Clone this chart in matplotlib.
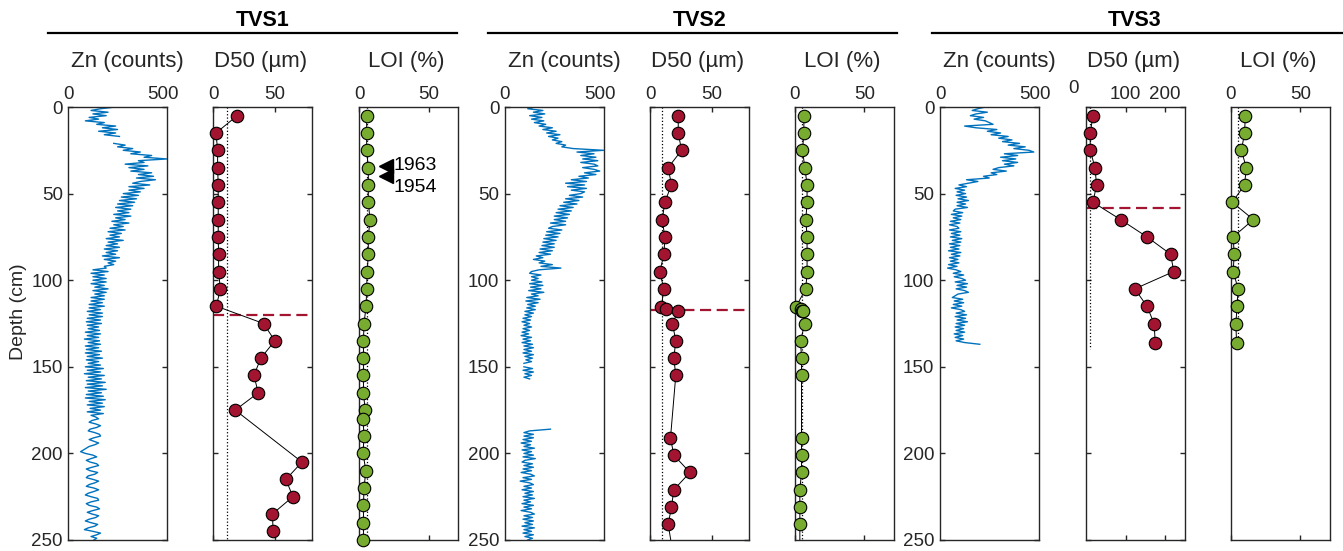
import numpy as np
import matplotlib.pyplot as plt
from matplotlib.lines import Line2D

plt.rcParams['font.family'] = ['Liberation Sans', 'DejaVu Sans']

nan = np.nan

# Zn XRF counts, one value per cm from the top of each core
zn_tvs1 = [
    250, 170, 120, 210, 130, 200, 110, 160, 90, 190,
    150, 250, 180, 260, 160, 250, 190, 270, nan, nan,
    nan, 240, 300, 260, 340, 290, 380, 330, 440, 400,
    520, 370, 400, 300, 420, 320, 400, 330, 440, 370,
    450, 360, 460, 380, 340, 430, 320, 400, 320, 380,
    290, 370, 280, 360, 270, 350, 260, 340, 250, 330,
    260, 320, 240, 330, 250, 300, 230, 320, 240, 290,
    220, 300, 210, 280, 220, 270, 200, 290, 210, 260,
    200, 270, 190, 260, 200, 250, 180, 270, 190, 250,
    210, 240, 190, 200, 130, 210, 120, 190, 130, 200,
    130, 200, 120, 190, 140, 210, 130, 200, 140, 190,
    120, 190, 120, 180, 110, 190, 110, 170, 100, 180,
    110, 180, 100, 170, 95, 175, 100, 160, 105, 165,
    90, 170, 100, 160, 85, 165, 105, 170, 90, 160,
    95, 175, 90, 165, 100, 180, 95, 160, 105, 170,
    90, 185, 100, 170, 85, 190, 105, 175, 95, 195,
    100, 180, 90, 200, 105, 175, 95, 185, 90, 195,
    110, 180, 100, 190, 115, 170, 100, 185, 120, 145,
    160, 125, 110, 145, 170, 150, 115, 105, 140, 165,
    170, 135, 110, 135, 160, 140, 110, 95, 80, 65,
    90, 130, 150, 120, 95, 115, 150, 160, 125, 95,
    115, 155, 140, 105, 95, 130, 160, 140, 110, 95,
    135, 160, 135, 105, 90, 120, 155, 160, 120, 95,
    110, 150, 165, 130, 100, 125, 160, 145, 110, 90,
    120, 155, 140, 105, 85, 130, 170, 150, 120, 150,
    135,
]

zn_tvs2 = [
    155, 120, 200, 150, 210, 130, 195, 140, 205, 155,
    215, 180, 250, 200, 270, 220, 290, 230, 280, 250,
    300, 270, 320, 300, 360, 520, 380, 470, 400, 480,
    410, 490, 400, 470, 490, 410, 470, 500, 420, 480,
    390, 440, 350, 430, 320, 420, 330, 430, 350, 420,
    400, 340, 410, 320, 390, 310, 380, 290, 360, 280,
    350, 270, 340, 260, 330, 260, 320, 240, 320, 250,
    230, 300, 220, 290, 215, 280, 205, 270, 200, 260,
    195, 260, 185, 250, 180, 240, 165, 200, 150, 210,
    180, 250, 190, 295, 180, 140, 130, 190, 140, 175,
    140, 195, 130, 200, 135, 190, 125, 205, 140, 175,
    115, 185, 110, 175, 120, 160, 115, 160, 105, 150,
    105, 140, 95, 135, 90, 130, 100, 140, 95, 130,
    90, 125, 85, 140, 95, 135, 90, 145, 100, 150,
    100, 140, 95, 150, 105, 145, 110, 140, 100, nan,
    100, 145, 95, 150, 105, 140, 100, 130, nan, nan,
    nan, nan, nan, nan, nan, nan, nan, nan, nan, nan,
    nan, nan, nan, nan, nan, nan, nan, nan, nan, nan,
    nan, nan, nan, nan, nan, nan, 240, 130, 100, 150,
    100, 150, 95, 140, 85, 135, 100, 155, 90, 140,
    100, 150, 95, 160, 105, 90, 145, 100, 150, 95,
    140, 85, 135, 155, 95, 140, 80, 130, 150, 100,
    140, 90, 150, 105, 145, 95, 155, 100, 135, 90,
    150, 100, 140, 85, 135, 155, 100, 145, 95, 150,
    105, 145, 90, 155, 100, 140, 95, 150, 105, 145,
    120,
]

zn_tvs3 = [
    240, 200, 170, 250, 190, 160, 230, 180, 240, 260,
    280, 130, 190, 300, 250, 320, 270, 360, 310, 380,
    330, 420, 360, 450, 390, 470, 495, 340, 410, 320,
    400, 330, 410, 340, 390, 310, 280, 350, 270, 300,
    230, 260, 140, 200, 150, 100, 140, 80, 130, 90,
    135, 85, 140, 95, 150, 90, 135, 90, 145, 80,
    70, 120, 60, 115, 70, 110, 55, 105, 50, 90,
    100, 50, 110, 60, 105, 55, 115, 65, 110, 50,
    105, 55, 100, 45, 110, 60, 105, 50, 95, 55,
    100, 45, 90, 40, 85, 110, 70, 125, 75, 115,
    135, 80, 145, 90, 140, 85, 130, 150, 95, 80,
    65, 120, 75, 125, 70, 115, 60, 110, 130, 85,
    140, 80, 135, 90, 145, 85, 130, 80, 125, 85,
    130, 75, 120, 80, 125, 85, 130, 210,
]

# grain size (D50, um)
d50_depth_tvs1 = [5, 15, 25, 35, 45, 55, 65, 75, 85, 95, 105, 115, 125, 135,
                  145, 155, 165, 175, 205, 215, 225, 235, 245]
d50_tvs1 = [19.4, 2.2, 3.5, 3.5, 4, 4, 4, 4, 4.3, 4.3, 5.7, 2.5, 40.8, 50,
            38.6, 33, 36.5, 17.8, 72, 59, 64.6, 48, 48.6]

d50_depth_tvs2 = [5, 15, 25, 35, 45, 55, 65, 75, 85, 95, 105, 115.3, 116.8, 117.6,
                  125, 135, 145, 155, 191, 201, 211, 221, 231, 241, 258]
d50_tvs2 = [22.7, 22.7, 25.4, 14.5, 17.2, 11.7, 9.8, 11.7, 11.2, 7.6, 11, 9, 12.5, 22.7,
            18, 20.7, 19.1, 20.7, 16.4, 19.1, 32.2, 19.1, 17.2, 14.5, 18.5]

d50_depth_tvs3 = [5, 15, 25, 35, 45, 55, 65, 75, 85, 95, 105, 115, 125, 136]
d50_tvs3 = [17, 10, 10, 22, 26, 17, 87, 154, 214, 222, 123, 154, 172, 175]

# loss on ignition (%)
loi_depth_tvs1 = [5, 15, 25, 35, 45, 55, 65, 75, 85, 95, 105, 115, 125, 135, 145,
                  155, 165, 175, 180, 190, 200, 210, 220, 230, 240, 250]
loi_tvs1 = [5.3, 5.3, 5.3, 6.5, 6.5, 6.5, 7.7, 6.5, 6.5, 5.7, 5.3, 4.9, 3.4, 3, 3,
            3, 3, 4.2, 2.7, 3.4, 2.7, 4.7, 3.4, 3, 3, 3]

loi_depth_tvs2 = [5, 15, 25, 35, 45, 55, 65, 75, 85, 95, 105, 115.3, 116.5, 117.5, 118,
                  125, 135, 145, 155, 191, 201, 211, 221, 231, 241, 258]
loi_tvs2 = [6.4, 6.4, 5.4, 7.1, 8.7, 8.7, 7.8, 8.7, 8.7, 8.7, 7.8, 0.7, 4, 5.4, 5.9,
            7.1, 4, 4.7, 4.7, 4.7, 4.7, 4.7, 3.5, 3.5, 3.5, 3.5]

loi_depth_tvs3 = [5, 15, 25, 35, 45, 55, 65, 75, 85, 95, 105, 115, 125, 136]
loi_tvs3 = [10.3, 9.8, 7.5, 11, 9.8, 0.9, 16.1, 1.6, 2.3, 1.6, 5.1, 4.4, 3.5, 4]

cores = ['TVS1', 'TVS2', 'TVS3']
d50_ref = [10.8, 9.5, 8.4]
loi_ref = [5.5, 5.2, 5.1]
ref_bottom = [250, 250, 140]
boundary = [120, 117, 58.5]
dates = ['1963', '1954']
date_depth = [34.2, 39.8]

zn_all = [zn_tvs1, zn_tvs2, zn_tvs3]
d50_all = [(d50_depth_tvs1, d50_tvs1), (d50_depth_tvs2, d50_tvs2), (d50_depth_tvs3, d50_tvs3)]
loi_all = [(loi_depth_tvs1, loi_tvs1), (loi_depth_tvs2, loi_tvs2), (loi_depth_tvs3, loi_tvs3)]

W, H = 1343, 551
AX_TOP, AX_BOT = 107, 540
AX_W = 98.5
GREY = '#262626'
BLUE = '#0072BD'
RED = '#A2142F'
GREEN = '#77AC30'
TICK_FS = 13.5

left_px = [(68.3, 213.3, 359.3), (505, 650.3, 795), (940, 1086.3, 1231)]
line_px = [(48, 457), (488, 897), (932, 1343)]

fig = plt.figure(figsize=(W / 100, H / 100), dpi=100)


def make_ax(x0):
    ax = fig.add_axes([x0 / W, (H - AX_BOT) / H, AX_W / W, (AX_BOT - AX_TOP) / H])
    ax.set_ylim(250, 0)
    ax.xaxis.tick_top()
    ax.tick_params(direction='in', top=True, bottom=True, left=True, right=True,
                   labeltop=True, labelbottom=False, labelleft=False,
                   length=3.5, width=1, colors=GREY, labelsize=TICK_FS, pad=3)
    ax.tick_params(axis='y', pad=4)
    ax.set_yticks([0, 50, 100, 150, 200, 250])
    for s in ax.spines.values():
        s.set_color(GREY)
        s.set_linewidth(1)
    return ax


def points(ax, depth, vals, color):
    depth = np.asarray(depth)
    vals = np.asarray(vals)
    ax.plot(vals, depth, color='k', lw=0.7, zorder=3)
    keep = depth <= 250
    ax.plot(vals[keep], depth[keep], ls='none', marker='o', ms=9, mfc=color,
            mec='k', mew=0.8, zorder=4, clip_on=False)


for i, core in enumerate(cores):
    xz, xd, xl = left_px[i]

    # Zn
    ax = make_ax(xz)
    zn = np.asarray(zn_all[i], dtype=float)
    ax.plot(zn, np.arange(len(zn)), color=BLUE, lw=1.0)
    ax.set_xlim(0, 520)
    ax.set_xticks([0, 500])
    ax.tick_params(axis='x', length=0)
    ax.tick_params(axis='y', labelleft=True)
    if i == 0:
        fig.text(18.5 / W, (H - 312) / H, 'Depth (cm)', rotation=90, ha='center',
                 va='center', fontsize=14, color=GREY)
    fig.text((xz + AX_W / 2 + 10) / W, (H - 62) / H, 'Zn (counts)', ha='center',
             va='center', fontsize=16, color=GREY)

    # D50
    ax = make_ax(xd)
    dd, dv = d50_all[i]
    ax.plot([d50_ref[i], d50_ref[i]], [0, ref_bottom[i]], ls=':', color='k', lw=0.9, zorder=2)
    ax.axhline(boundary[i], color=RED, lw=1.6, ls=(0, (5, 2.5)), zorder=2)
    points(ax, dd, dv, RED)
    if core == 'TVS3':
        ax.set_xlim(0, 250)
        ax.set_xticks([100, 200])
        ax.text(-0.13, 1 + (AX_TOP - 89) / (AX_BOT - AX_TOP), '0', transform=ax.transAxes,
                ha='center', va='center', fontsize=TICK_FS, color=GREY)
    else:
        ax.set_xlim(0, 80)
        ax.set_xticks([0, 50])
    fig.text((xd + AX_W / 2 - 2) / W, (H - 62) / H, 'D50 (\u00b5m)', ha='center',
             va='center', fontsize=16, color=GREY)

    # LOI
    ax = make_ax(xl)
    ld, lv = loi_all[i]
    ax.plot([loi_ref[i], loi_ref[i]], [0, ref_bottom[i]], ls=':', color='k', lw=0.9, zorder=2)
    points(ax, ld, lv, GREEN)
    ax.set_xlim(0, 71)
    ax.set_xticks([0, 50])
    ax.tick_params(axis='y', length=0)
    if core == 'TVS1':
        ax.plot([19.1, 19.1], date_depth, ls='none', marker='<', ms=10, color='k',
                zorder=5, clip_on=False)
        ax.text(24.6, 34, dates[0], ha='left', va='center', fontsize=14)
        ax.text(24.6, 46.5, dates[1], ha='left', va='center', fontsize=14)
    fig.text((xl + AX_W / 2 - 2) / W, (H - 62) / H, 'LOI (%)', ha='center',
             va='center', fontsize=16, color=GREY)

    # core title with rule underneath
    x0, x1 = line_px[i]
    fig.add_artist(Line2D([x0 / W, x1 / W], [(H - 33) / H] * 2, color='k', lw=1.6))
    fig.text((xz + xl + AX_W) / 2 / W, (H - 20) / H, core, ha='center', va='center',
             fontsize=15.5, fontweight='bold')

fig.savefig('out.png', dpi=100)
